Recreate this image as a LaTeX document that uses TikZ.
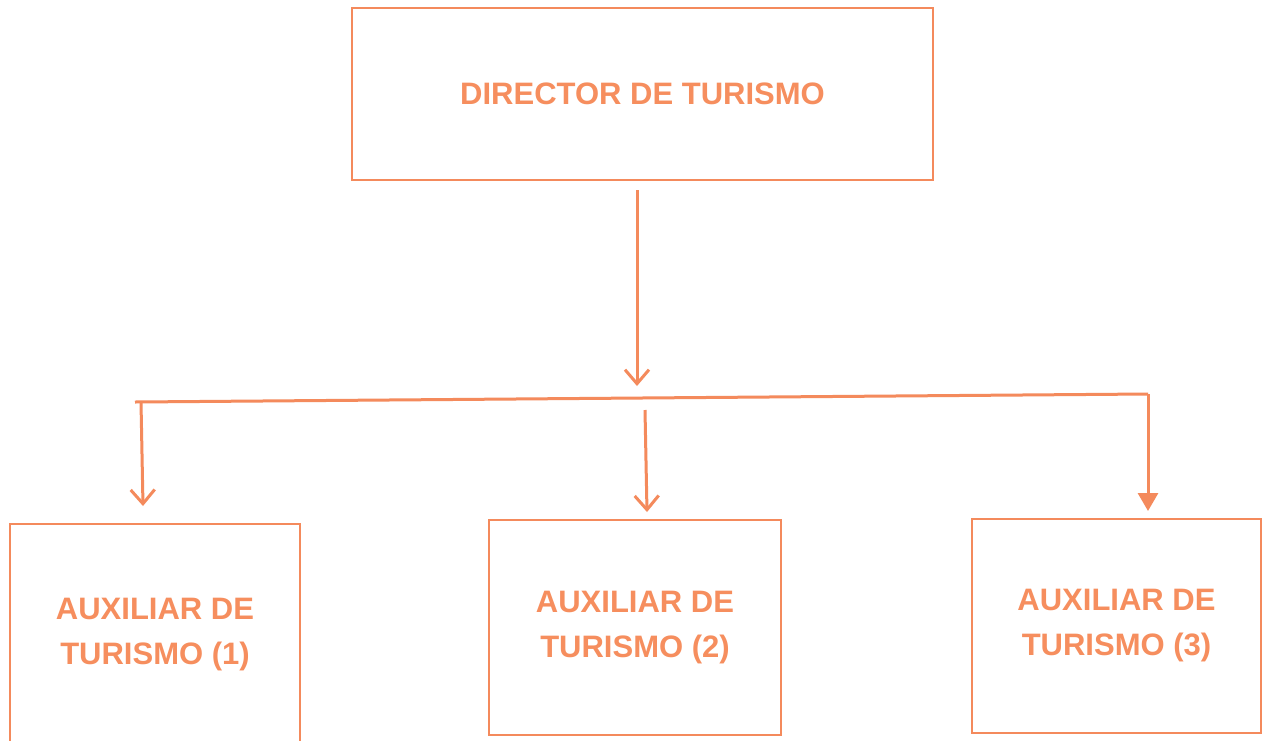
\documentclass[tikz,border=0pt]{standalone}
\usepackage{fontspec}
\setmainfont{Liberation Sans}
\usetikzlibrary{arrows.meta}
\definecolor{org}{RGB}{244,138,92}
\definecolor{orgtxt}{RGB}{246,142,94}
\tikzset{
  box/.style={draw=org, line width=2.6pt, inner sep=0pt, align=center,
    font=\fontsize{31}{45}\selectfont\bfseries, text=orgtxt},
  conn/.style={draw=org, line width=3pt},
  arr/.style={conn, -{Straight Barb[length=14pt,width=24pt,line width=3pt]}},
  arrt/.style={conn, -{Triangle[length=18pt,width=20pt]}},
}
\begin{document}
\begin{tikzpicture}[x=1pt,y=-1pt]
\useasboundingbox (0,0) rectangle (1264,740);
\fill[white] (0,0) rectangle (1264,740);
\node[box, minimum width=581pt, minimum height=172pt] (dir) at (642.5,94) {DIRECTOR DE TURISMO};
\node[box, minimum width=290pt, minimum height=222pt] (a1) at (155,635) {AUXILIAR DE\\TURISMO (1)};
\node[box, minimum width=292pt, minimum height=215pt] (a2) at (635,627.5) {AUXILIAR DE\\TURISMO (2)};
\node[box, minimum width=289pt, minimum height=214pt] (a3) at (1116.5,626) {AUXILIAR DE\\TURISMO (3)};
\coordinate (dtop) at (637,190);
\coordinate (dend) at (637,386);
\coordinate (busL) at (135,402);
\coordinate (busR) at (1148,394);
\coordinate (l1) at (141,402);
\coordinate (e1) at (143,506);
\coordinate (l2) at (645,410);
\coordinate (e2) at (647,512);
\coordinate (e3) at (1148,511);
\draw[arr] (dtop) -- (dend);
\draw[conn] (busL) -- (busR);
\draw[arr] (l1) -- (e1);
\draw[arr] (l2) -- (e2);
\draw[arrt] (busR) -- (e3);
\end{tikzpicture}
\end{document}
